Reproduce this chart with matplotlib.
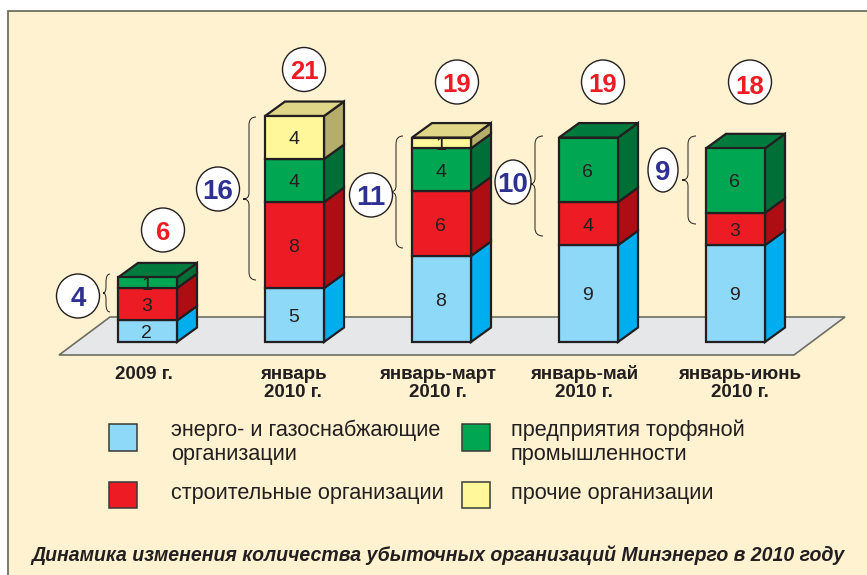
import matplotlib
matplotlib.use("Agg")
import matplotlib.pyplot as plt
from matplotlib.patches import Ellipse, PathPatch, Polygon, Rectangle
from matplotlib.path import Path
from matplotlib.transforms import Affine2D

plt.rcParams["font.family"] = ["Liberation Sans", "DejaVu Sans"]

# data
periods = ["2009 г.", "январь\n2010 г.", "январь-март\n2010 г.", "январь-май\n2010 г.", "январь-июнь\n2010 г."]
energy = [2, 5, 8, 9, 9]
construction = [3, 8, 6, 4, 3]
peat = [1, 4, 4, 6, 6]
other = [0, 4, 1, 0, 0]
totals = [6, 21, 19, 19, 18]
subtotals = [4, 16, 11, 10, 9]
title = "Динамика изменения количества убыточных организаций Минэнерго в 2010 году"
legend_names = ["энерго- и газоснабжающие\nорганизации", "строительные организации",
                "предприятия торфяной\nпромышленности", "прочие организации"]

# front, side, top colours per series
series = [energy, construction, peat, other]
front = ["#8ED8F8", "#ED1C24", "#00A651", "#FFF799"]
side = ["#00AEEF", "#AE0D14", "#006F37", "#B5AD6C"]
top = ["#00AEEF", "#AE0D14", "#007A3D", "#DFD687"]
dark = "#231F20"

W, H = 867, 575
PX_X = 147.0   # pixels per category
PX_Y = 10.76   # pixels per organisation
X0, Y0 = 118, 342
BAR_W = 59 / PX_X
DX = 20 / PX_X
DY = 14.5 / PX_Y

fig = plt.figure(figsize=(W / 100, H / 100), dpi=100, facecolor="white")
ax = fig.add_axes([0, 0, 1, 1])
ax.set_xlim(-X0 / PX_X, (W - X0) / PX_X)
ax.set_ylim(-(H - Y0) / PX_Y, Y0 / PX_Y)
ax.axis("off")

# pixel coordinates of the picture, for the decoration
px = Affine2D().scale(1 / 100, -1 / 100).translate(0, H / 100) + fig.dpi_scale_trans

# panel and floor
ax.add_patch(Rectangle((7.5, 10.5), 880, 600, fc="#FEF2D0", ec="#6E6E62", lw=1.3, transform=px, zorder=0))
ax.add_patch(Polygon([(59, 355), (110, 317), (845, 317), (794, 355)], closed=True,
                     fc="#E6E7E8", ec="#6E6E62", lw=1.2, transform=px, zorder=1))

# bars
for i in range(len(periods)):
    bottom = 0
    last = 0
    for s, vals in enumerate(series):
        v = vals[i]
        if v == 0:
            continue
        ax.bar(i, v, width=BAR_W, bottom=bottom, align="edge", color=front[s], edgecolor=dark, linewidth=1.6, zorder=3)
        ax.add_patch(Polygon([(i + BAR_W, bottom), (i + BAR_W + DX, bottom + DY),
                              (i + BAR_W + DX, bottom + v + DY), (i + BAR_W, bottom + v)],
                             closed=True, fc=side[s], ec=dark, lw=1.6, zorder=2.5))
        ax.text(i + BAR_W / 2 - 0.005, bottom + v / 2 - 0.22, str(v), ha="center", va="center",
                fontsize=14, color=dark, zorder=5)
        bottom += v
        last = s
    ax.add_patch(Polygon([(i, bottom), (i + DX, bottom + DY), (i + BAR_W + DX, bottom + DY), (i + BAR_W, bottom)],
                         closed=True, fc=top[last], ec=dark, lw=1.6, zorder=2.5))

# totals in circles (the last number sits low in its circle)
total_pos = [(163, 230, 0), (304, 69.5, 0), (457, 82, 0), (603, 82, 0), (750, 82, 3)]
for (x, y, dy), t in zip(total_pos, totals):
    ax.add_patch(Ellipse((x, y), 43, 44, fc="white", ec=dark, lw=1.0, transform=px, zorder=6))
    ax.text(x, y + dy, str(t), transform=px, ha="center", va="center_baseline", fontsize=18.5,
            fontweight="bold", color="#ED1C24", zorder=7)

# brackets: open x, mid x, tip x, top y, tip y, bottom y
brackets = [(110, 106, 103, 274, 293, 312), (256, 249, 243, 117, 199, 280), (403, 396, 390, 136, 192, 248),
            (543, 535, 530, 136, 184, 236), (696, 688, 682, 136, 180, 224)]
for xo, xm, xt, y1, yt, y2 in brackets:
    verts = [(xo, y1), (xm, y1), (xm, y1 + 8), (xm, yt - 6), (xm, yt), (xt, yt),
             (xm, yt), (xm, yt + 6), (xm, y2 - 8), (xm, y2), (xo, y2)]
    codes = [Path.MOVETO, Path.CURVE3, Path.CURVE3, Path.LINETO, Path.CURVE3, Path.CURVE3,
             Path.CURVE3, Path.CURVE3, Path.LINETO, Path.CURVE3, Path.CURVE3]
    ax.add_patch(PathPatch(Path(verts, codes), fc="none", ec=dark, lw=0.7, transform=px, zorder=4))

sub_pos = [(78, 296, 43), (218, 189, 43), (371, 195, 43), (513, 182, 36), (663, 170, 30)]
for (x, y, w), t in zip(sub_pos, subtotals):
    ax.add_patch(Ellipse((x, y), w, 44, fc="white", ec=dark, lw=1.0, transform=px, zorder=6))
    ax.text(x, y, str(t), transform=px, ha="center", va="center_baseline", fontsize=20,
            fontweight="bold", color="#2E3192", zorder=7)

# category labels, line by line so that the baselines stay level
label_x = [144, 293, 438, 584, 740]
for x, name in zip(label_x, periods):
    for n, line in enumerate(name.split("\n")):
        ax.text(x, 379 + 18 * n, line, transform=px, ha="center", va="baseline", fontsize=13.5,
                fontweight="bold", color=dark, zorder=5)

# legend
swatches = [(109, 424, 27), (109, 482, 26), (462, 424, 27), (462, 482, 26)]
for k, (x, y, h) in enumerate(swatches):
    ax.add_patch(Rectangle((x, y), 28, h, fc=front[k], ec="#3A3A35", lw=1.1, transform=px, zorder=5))
    tx = 171 if k < 2 else 511
    ty = 436 if k in (0, 2) else 499
    for n, line in enumerate(legend_names[k].split("\n")):
        ax.text(tx, ty + 24 * n, line, transform=px, ha="left", va="baseline", fontsize=15.6,
                color=dark, zorder=5)

ax.text(438, 555, title, transform=px, ha="center", va="center", fontsize=14.05, fontweight="bold",
        fontstyle="italic", color=dark, zorder=5)

fig.savefig("out.png", dpi=100)
